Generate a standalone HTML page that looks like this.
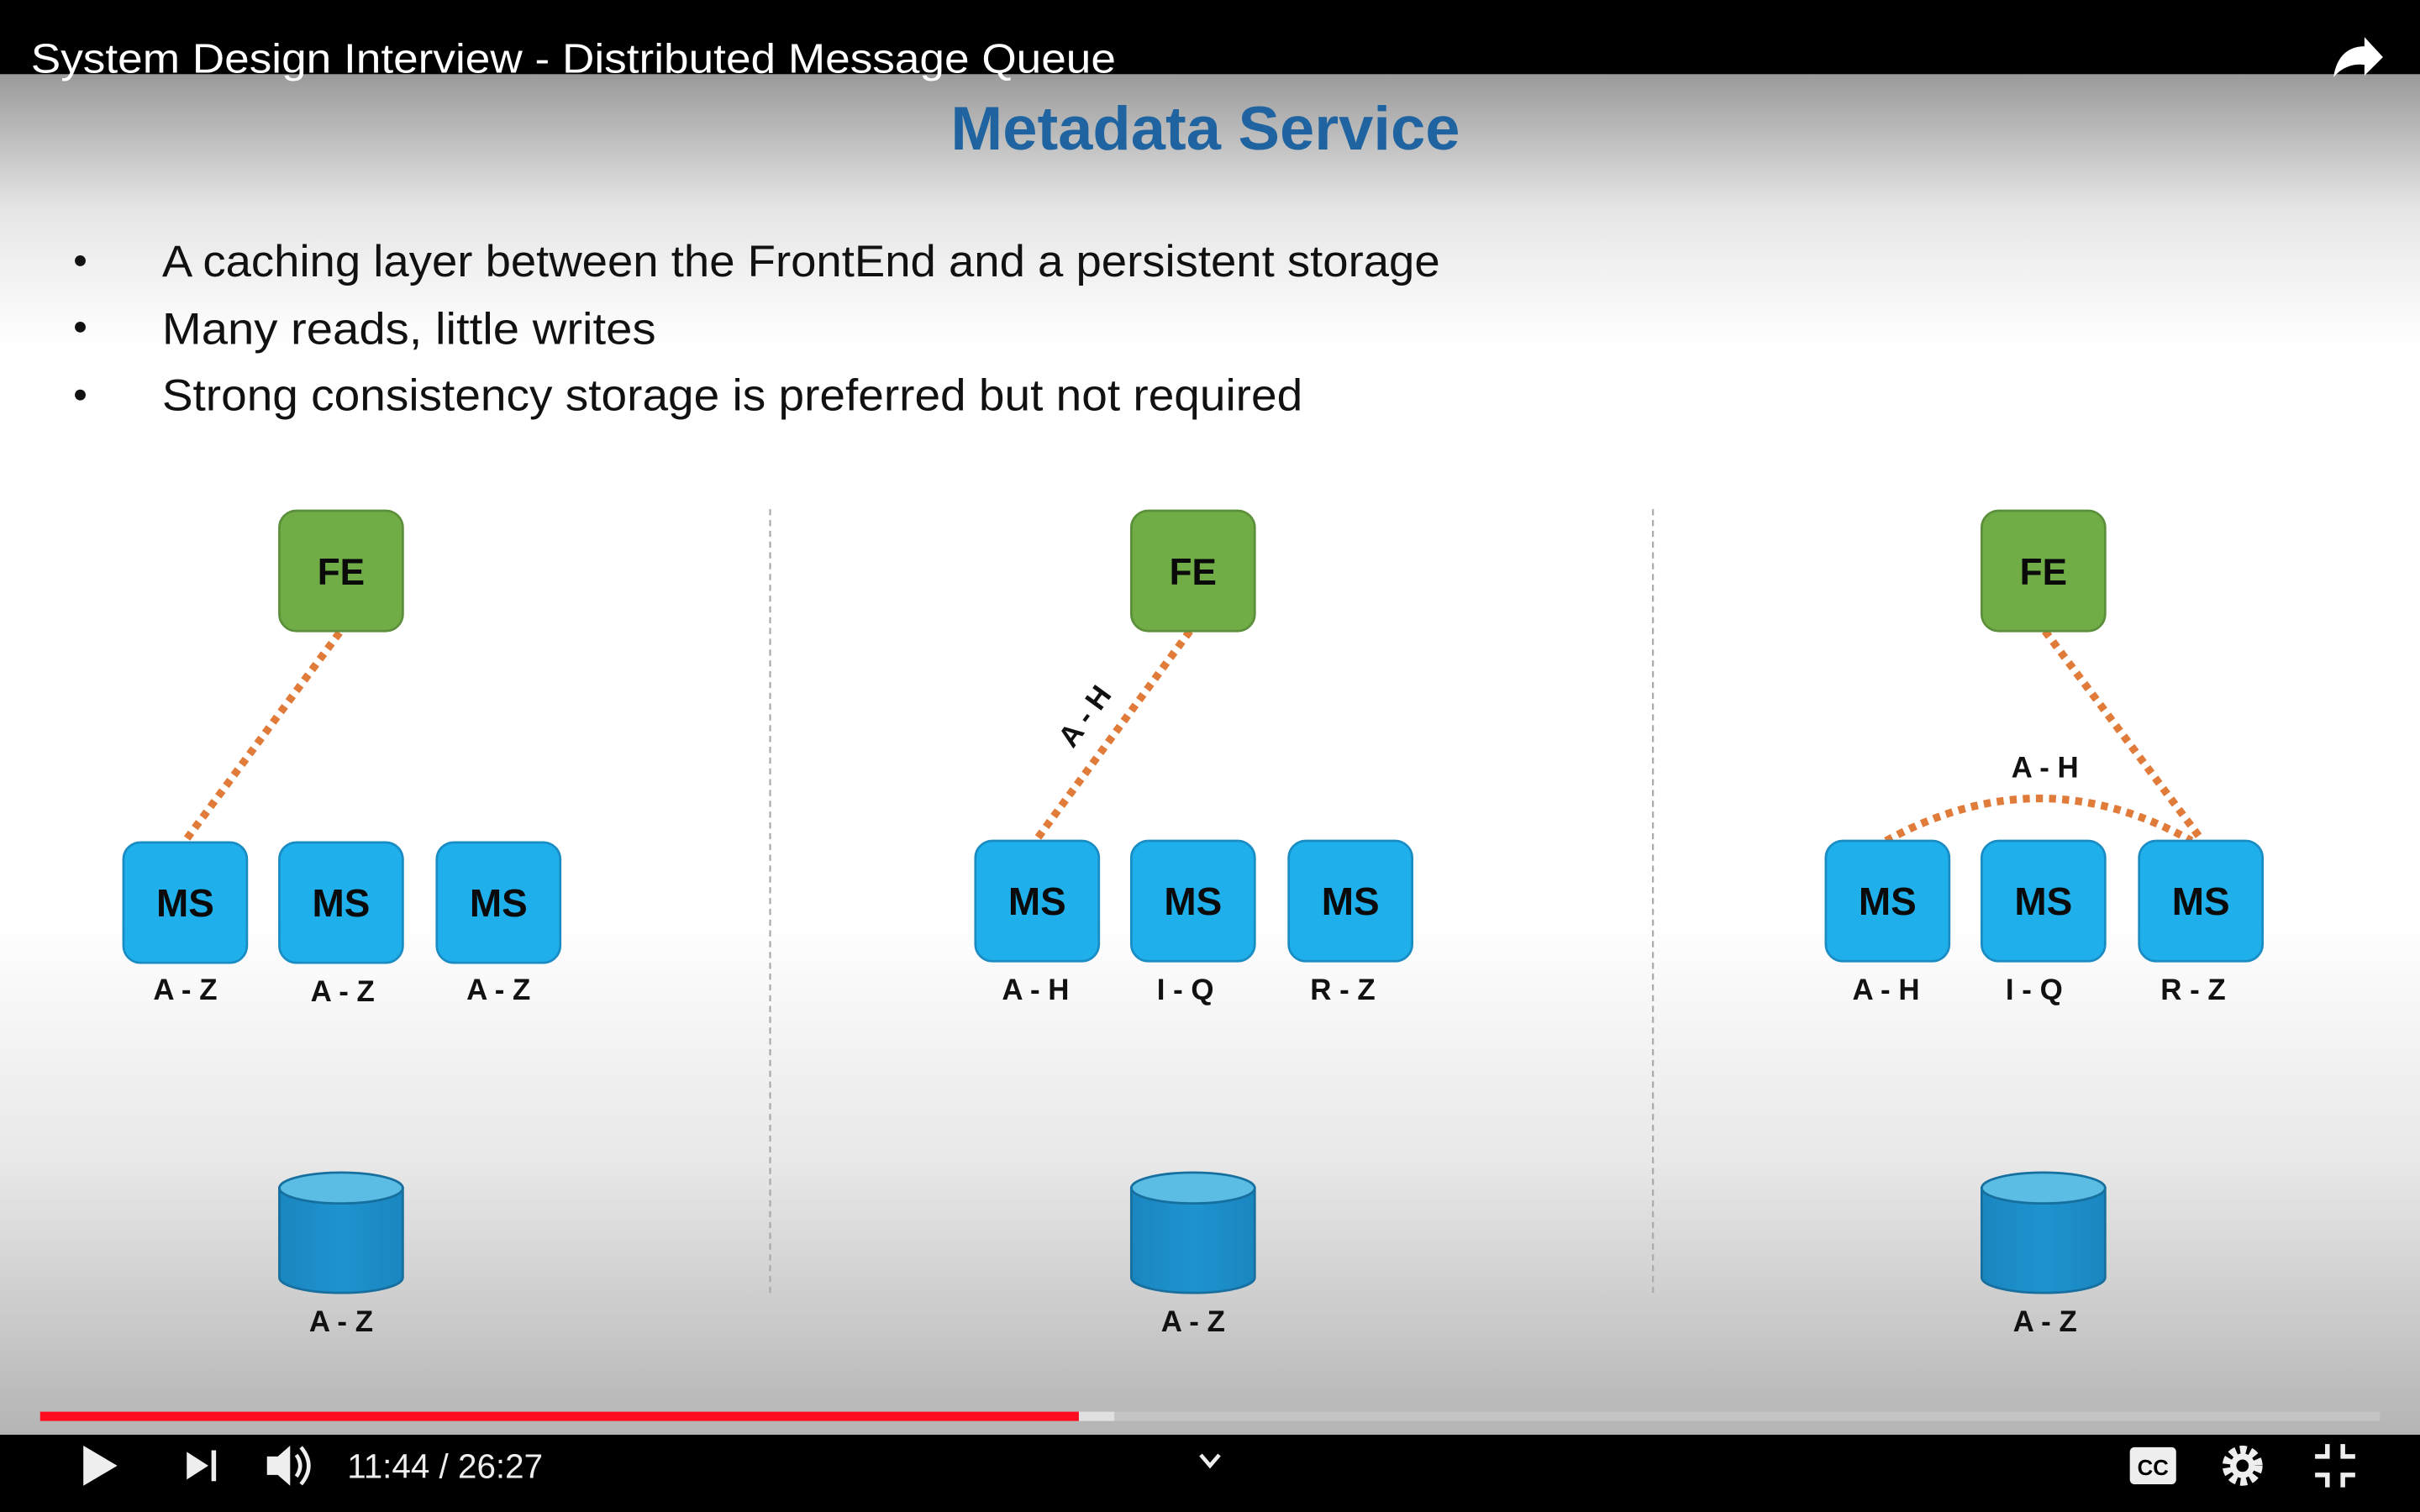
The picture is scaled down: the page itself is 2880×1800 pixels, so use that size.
<!DOCTYPE html>
<html><head><meta charset="utf-8"><style>
html,body{margin:0;padding:0;background:#000;}
svg{display:block;}
</style></head><body>
<svg width="2880" height="1800" viewBox="0 0 1568 980" xmlns="http://www.w3.org/2000/svg" font-family="'Liberation Sans', 'DejaVu Sans', sans-serif">
<defs>
<linearGradient id="bg" x1="0" y1="0" x2="0" y2="1">
<stop offset="0" stop-color="#9a9a9a"/>
<stop offset="0.1" stop-color="#e6e6e6"/>
<stop offset="0.2" stop-color="#ffffff"/>
<stop offset="0.62" stop-color="#ffffff"/>
<stop offset="0.8" stop-color="#e8e8e8"/>
<stop offset="1" stop-color="#b4b4b4"/>
</linearGradient>
<linearGradient id="cyl" x1="0" y1="0" x2="1" y2="0">
<stop offset="0" stop-color="#1a86bf"/><stop offset="0.5" stop-color="#1e93cf"/><stop offset="1" stop-color="#1a86bf"/>
</linearGradient>
</defs>
<rect x="0" y="48" width="1568" height="882" fill="url(#bg)"/>
<rect x="0" y="0" width="1568" height="48" fill="#000"/>
<text x="20" y="47" font-size="27" fill="#fff" textLength="703" lengthAdjust="spacingAndGlyphs">System Design Interview - Distributed Message Queue</text>
<path d="M1512 50 C1514 36 1522 30 1532 30 L1532 24 L1544 37 L1532 49 L1532 42 C1524 41 1517 44 1512 50 Z" fill="#fff"/>
<text x="781" y="97" font-size="40" font-weight="bold" fill="#1f64a0" text-anchor="middle" textLength="330" lengthAdjust="spacingAndGlyphs">Metadata Service</text>
<g font-size="29" fill="#111">
<circle cx="52" cy="169" r="3.5"/><circle cx="52" cy="212" r="3.5"/><circle cx="52" cy="256" r="3.5"/>
<text x="105" y="179" textLength="828" lengthAdjust="spacingAndGlyphs">A caching layer between the FrontEnd and a persistent storage</text>
<text x="105" y="223" textLength="320" lengthAdjust="spacingAndGlyphs">Many reads, little writes</text>
<text x="105" y="266" textLength="739" lengthAdjust="spacingAndGlyphs">Strong consistency storage is preferred but not required</text>
</g>
<line x1="499" y1="330" x2="499" y2="838" stroke="#aaa" stroke-width="1.2" stroke-dasharray="4 3"/>
<line x1="1071" y1="330" x2="1071" y2="838" stroke="#aaa" stroke-width="1.2" stroke-dasharray="4 3"/>
<g stroke="#e07b39" stroke-width="5" stroke-dasharray="4.5 4" fill="none">
<line x1="220" y1="410" x2="120" y2="545"/>
<line x1="771" y1="409" x2="671" y2="545"/>
<line x1="1325" y1="409" x2="1427" y2="545"/>
<path d="M1222 545 Q1322 490 1420 545"/>
</g>
<text x="0" y="0" font-size="19" font-weight="bold" fill="#111" text-anchor="middle" transform="translate(708,468) rotate(-54)">A - H</text>
<text x="1325" y="504" font-size="19" font-weight="bold" fill="#111" text-anchor="middle">A - H</text>
<g fill="#70ad47" stroke="#5b8f3a" stroke-width="1.5">
<rect x="181" y="331" width="80" height="78" rx="11"/>
<rect x="733" y="331" width="80" height="78" rx="11"/>
<rect x="1284" y="331" width="80" height="78" rx="11"/>
</g>
<g font-size="24" font-weight="bold" fill="#0a0a0a" text-anchor="middle">
<text x="221" y="379">FE</text><text x="773" y="379">FE</text><text x="1324" y="379">FE</text>
</g>
<g fill="#1fb0ec" stroke="#1a8cc4" stroke-width="1.5">
<rect x="80" y="546" width="80" height="78" rx="11"/>
<rect x="181" y="546" width="80" height="78" rx="11"/>
<rect x="283" y="546" width="80" height="78" rx="11"/>
<rect x="632" y="545" width="80" height="78" rx="11"/>
<rect x="733" y="545" width="80" height="78" rx="11"/>
<rect x="835" y="545" width="80" height="78" rx="11"/>
<rect x="1183" y="545" width="80" height="78" rx="11"/>
<rect x="1284" y="545" width="80" height="78" rx="11"/>
<rect x="1386" y="545" width="80" height="78" rx="11"/>
</g>
<g font-size="25" font-weight="bold" fill="#0a0a0a" text-anchor="middle">
<text x="120" y="594">MS</text><text x="221" y="594">MS</text><text x="323" y="594">MS</text>
<text x="672" y="593">MS</text><text x="773" y="593">MS</text><text x="875" y="593">MS</text>
<text x="1223" y="593">MS</text><text x="1324" y="593">MS</text><text x="1426" y="593">MS</text>
</g>
<g font-size="19" font-weight="bold" fill="#111" text-anchor="middle">
<text x="120" y="648">A - Z</text><text x="222" y="649">A - Z</text><text x="323" y="648">A - Z</text>
<text x="671" y="648">A - H</text><text x="768" y="648">I - Q</text><text x="870" y="648">R - Z</text>
<text x="1222" y="648">A - H</text><text x="1318" y="648">I - Q</text><text x="1421" y="648">R - Z</text>
<text x="221" y="863">A - Z</text><text x="773" y="863">A - Z</text><text x="1325" y="863">A - Z</text>
</g>
<g stroke="#166f9e" stroke-width="1.5">
<g transform="translate(181,0)"><path d="M0 770 L0 828 A40 10 0 0 0 80 828 L80 770 Z" fill="url(#cyl)"/><ellipse cx="40" cy="770" rx="40" ry="10" fill="#5bbde3"/></g>
<g transform="translate(733,0)"><path d="M0 770 L0 828 A40 10 0 0 0 80 828 L80 770 Z" fill="url(#cyl)"/><ellipse cx="40" cy="770" rx="40" ry="10" fill="#5bbde3"/></g>
<g transform="translate(1284,0)"><path d="M0 770 L0 828 A40 10 0 0 0 80 828 L80 770 Z" fill="url(#cyl)"/><ellipse cx="40" cy="770" rx="40" ry="10" fill="#5bbde3"/></g>
</g>
<rect x="26" y="915" width="1516" height="6" fill="#c4c4c4"/>
<rect x="699" y="915" width="23" height="6" fill="#e0e0e0"/>
<rect x="26" y="915" width="673" height="6" fill="#ff0d1f"/>
<rect x="0" y="930" width="1568" height="50" fill="#000"/>
<path d="M54 937 L76 950 L54 963 Z" fill="#eee"/>
<path d="M121 941 L135 950 L121 959 Z" fill="#eee"/><rect x="137" y="940" width="3" height="20" fill="#eee"/>
<path d="M173 944 L180 944 L188 937 L188 963 L180 956 L173 956 Z" fill="#eee"/>
<path d="M192 943 Q197 950 192 957 M195 938 Q205 950 195 962" stroke="#eee" stroke-width="2.5" fill="none"/>
<text x="225" y="958" font-size="22" fill="#eee">11:44 / 26:27</text>
<path d="M778 943 L784 950 L790 943" stroke="#eee" stroke-width="2.5" fill="none"/>
<rect x="1380" y="938" width="30" height="24" rx="3" fill="#eee"/>
<text x="1395" y="956" font-size="14" font-weight="bold" fill="#000" text-anchor="middle">CC</text>
<circle cx="1453" cy="950" r="10" fill="none" stroke="#eee" stroke-width="6" stroke-dasharray="4 2.5"/>
<circle cx="1453" cy="950" r="8" fill="#eee"/><circle cx="1453" cy="950" r="4" fill="#000"/>
<path d="M1500 944 L1508 944 L1508 936 M1526 944 L1518 944 L1518 936 M1500 956 L1508 956 L1508 964 M1526 956 L1518 956 L1518 964" stroke="#eee" stroke-width="3" fill="none"/>
</svg>
</body></html>
